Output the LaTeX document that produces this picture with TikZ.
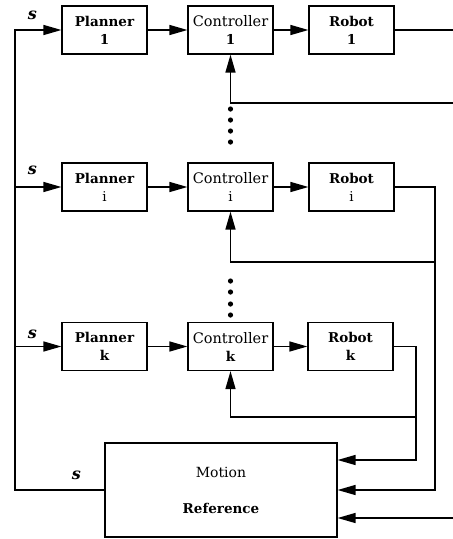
\documentclass[tikz,border=0pt]{standalone}
\usepackage{fontspec}
\setmainfont{DejaVu Serif}
\usetikzlibrary{positioning, arrows.meta, calc}

\begin{document}
\begin{tikzpicture}[x=1pt, y=-1pt, >={Triangle[length=18pt,width=10pt]}, line width=1.4pt,
    block/.style={draw, line width=1.2pt, minimum width=85pt, minimum height=48pt,
        align=center, inner sep=1pt, font=\fontsize{13.5}{18}\selectfont\bfseries},
    sig/.style={font=\fontsize{16}{18}\selectfont\bfseries\itshape}]
    \useasboundingbox (0,0) rectangle (453,539);
    % Row 1
    \node[block] (plan1) at (104.5,30) {Planner\\1};
    \node[block] (ctr1)  at (230.5,30) {{\mdseries\fontsize{14.5}{18}\selectfont Controller}\\1};
    \node[block] (rob1)  at (351.5,30) {Robot\\1};
    % Row i
    \node[block] (plani) at (104.5,187) {Planner\\{\mdseries i}};
    \node[block] (ctri)  at (230.5,187) {{\mdseries\fontsize{14.5}{18}\selectfont Controller}\\{\mdseries i}};
    \node[block] (robi)  at (351.5,187) {Robot\\{\mdseries i}};
    % Row k
    \node[block] (plank) at (104.5,346.5) {Planner\\k};
    \node[block] (ctrk)  at (230.5,346.5) {{\mdseries\fontsize{14.5}{18}\selectfont Controller}\\k};
    \node[block] (robk)  at (350.5,346.5) {Robot\\k};
    % Motion reference
    \node[block, minimum width=232pt, minimum height=94pt] (mref) at (221,490)
        {{\mdseries\fontsize{14}{18}\selectfont Motion}\\[18pt]Reference};

    % Forward paths
    \foreach \r in {1,i,k} {
        \draw[->] (plan\r.east) -- (ctr\r.west);
        \draw[->] (ctr\r.east) -- (rob\r.west);
    }

    % Reference signal bus on the left
    \coordinate (bus1) at (15,30);
    \draw[->] (mref.west) -| (bus1) -- (plan1.west);
    \draw[->] (bus1 |- plani.west) -- (plani.west);
    \draw[->] (bus1 |- plank.west) -- (plank.west);
    \node[sig] (s1) at ($(plan1.west)+(-29,-15)$) {s};
    \node[sig] (si) at ($(plani.west)+(-29,-17)$) {s};
    \node[sig] (sk) at ($(plank.west)+(-29,-12)$) {s};
    \node[sig] (sm) at ($(mref.west)+(-28,-15)$) {s};

    % Robot 1 (leaves the picture)
    \coordinate (out1) at (453,30);
    \coordinate (fb1) at (453,103);
    \coordinate (in1) at (453,518);
    \draw (rob1.east) -- (out1);
    \draw[->] (fb1) -| (ctr1.south);
    \draw[->] (in1) -- (in1 -| mref.east);

    % Robot i
    \coordinate (colI) at (435,490);
    \coordinate (fbI) at (435,262);
    \draw[->] (robi.east) -| (colI) -- (mref.east);
    \draw[->] (fbI) -| (ctri.south);

    % Robot k
    \coordinate (colK) at (416,460);
    \coordinate (fbK) at (416,417);
    \draw[->] (robk.east) -| (colK) -- (colK -| mref.east);
    \draw[->] (fbK) -| (ctrk.south);

    % Dots between the rows
    \foreach \y in {109,120,131,142,281,292,304,315}
        \fill (230.5,\y) circle (2.6pt);
\end{tikzpicture}
\end{document}
